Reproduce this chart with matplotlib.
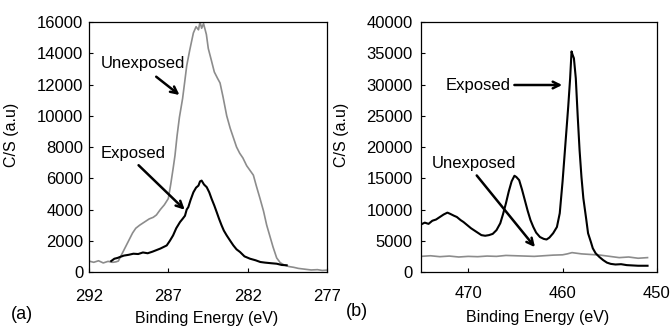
import numpy as np
import matplotlib
matplotlib.use("Agg")
import matplotlib.pyplot as plt

plt.rcParams['font.family'] = ['Liberation Sans', 'DejaVu Sans']

# (a) C 1s region
c_unexp_e = [292.0, 291.7, 291.4, 291.1, 290.8, 290.5, 290.3, 290.15, 290.0, 289.85,
             289.65, 289.45, 289.25, 289.05, 288.8, 288.5, 288.2, 287.95, 287.75, 287.5,
             287.25, 287.0, 286.85, 286.7, 286.58, 286.45, 286.3, 286.1, 285.95, 285.84,
             285.65, 285.42, 285.25, 285.1, 285.0, 284.9, 284.78, 284.6, 284.48, 284.3,
             284.1, 283.9, 283.74, 283.55, 283.32, 283.1, 282.9, 282.7, 282.5, 282.3,
             282.06, 281.85, 281.64, 281.45, 281.22, 281.0, 280.8, 280.6, 280.4, 280.17,
             279.95, 279.7, 279.4, 279.1, 278.8, 278.4, 278.0, 277.6, 277.3, 277.0]
c_unexp_v = [700, 620, 720, 580, 680, 620, 650, 700, 1000, 1300,
             1700, 2100, 2500, 2800, 3000, 3200, 3400, 3500, 3650, 4000,
             4300, 4700, 5600, 6600, 7450, 8700, 9900, 11100, 12300, 13200,
             14200, 15300, 15700, 15500, 16000, 15600, 15900, 15200, 14300, 13600,
             12800, 12400, 12100, 11200, 10000, 9200, 8600, 8000, 7600, 7300,
             6800, 6500, 6200, 5500, 4700, 3900, 3000, 2300, 1600, 900,
             600, 450, 350, 300, 230, 180, 130, 150, 100, 120]

c_exp_e = [290.6, 290.4, 290.2, 290.05, 289.8, 289.5, 289.2, 288.9, 288.6, 288.3,
           288.0, 287.75, 287.5, 287.3, 287.1, 286.9, 286.7, 286.5, 286.26, 286.1,
           285.95, 285.84, 285.74, 285.6, 285.42, 285.25, 285.1, 285.0, 284.9, 284.75,
           284.58, 284.42, 284.27, 284.1, 283.95, 283.8, 283.64, 283.5, 283.32, 283.1,
           282.9, 282.7, 282.48, 282.2, 281.85, 281.5, 281.2, 280.9, 280.5, 280.17,
           279.85, 279.54]
c_exp_v = [700, 850, 900, 960, 1050, 1100, 1170, 1150, 1250, 1200,
           1300, 1400, 1500, 1600, 1700, 2000, 2340, 2800, 3200, 3400,
           3600, 4000, 4150, 4600, 5100, 5400, 5530, 5800, 5850, 5600,
           5430, 5100, 4680, 4250, 3830, 3400, 2980, 2650, 2340, 2000,
           1700, 1450, 1280, 1000, 850, 750, 640, 600, 560, 530,
           450, 430]

# (b) Ti 2p region
ti_exp_e = [475.0, 474.6, 474.2, 473.8, 473.4, 473.0, 472.6, 472.2, 471.9, 471.5,
            471.2, 470.8, 470.5, 470.1, 469.7, 469.4, 469.0, 468.6, 468.2, 467.8,
            467.4, 467.0, 466.6, 466.3, 466.0, 465.7, 465.4, 465.1, 464.9, 464.6,
            464.3, 464.0, 463.7, 463.4, 463.1, 462.8, 462.4, 462.0, 461.7, 461.4,
            461.0, 460.6, 460.3, 460.0, 459.8, 459.6, 459.4, 459.2, 459.05, 458.95,
            458.8, 458.6, 458.4, 458.2, 458.0, 457.8, 457.5, 457.3, 457.0, 456.8,
            456.5, 456.1, 455.7, 455.3, 454.9, 454.4, 453.8, 453.2, 452.6, 452.0,
            451.0]
ti_exp_v = [7600, 7900, 7700, 8200, 8400, 8800, 9200, 9500, 9300, 9000,
            8800, 8300, 8000, 7500, 7000, 6700, 6300, 5900, 5800, 5900,
            6100, 6700, 7800, 9300, 11000, 12900, 14500, 15400, 15200, 14700,
            13200, 11500, 9800, 8300, 7200, 6300, 5600, 5300, 5200, 5500,
            6200, 7200, 9400, 14500, 18500, 22500, 26500, 31000, 35300, 34800,
            34200, 31000, 25000, 19500, 15200, 11800, 8500, 6200, 4800, 3800,
            3000, 2400, 1900, 1500, 1300, 1200, 1250, 1100, 1050, 1000,
            1000]

ti_unexp_e = [475.0, 474.0, 473.0, 472.0, 471.0, 470.0, 469.0, 468.0, 467.0, 466.0,
              465.0, 464.0, 463.0, 462.0, 461.0, 460.0, 459.5, 459.0, 458.5, 458.0,
              457.0, 456.0, 455.0, 454.0, 453.0, 452.0, 451.0]
ti_unexp_v = [2500, 2600, 2450, 2550, 2400, 2500, 2450, 2550, 2500, 2650,
              2600, 2550, 2500, 2600, 2700, 2750, 2900, 3100, 3000, 2900,
              2800, 2700, 2500, 2300, 2400, 2200, 2300]

gray = '#8c8c8c'
fs = 12

fig = plt.figure(figsize=(6.71, 3.27), dpi=100)
ax1 = fig.add_axes([0.1326, 0.1682, 0.3547, 0.7645])
ax2 = fig.add_axes([0.6274, 0.1682, 0.3517, 0.7645])

ax1.plot(c_unexp_e, c_unexp_v, color=gray, lw=1.2)
ax1.plot(c_exp_e, c_exp_v, color='black', lw=1.5)
ax1.set_xlim(292, 277)
ax1.set_ylim(0, 16000)
ax1.set_xticks([292, 287, 282, 277])
ax1.set_yticks(np.arange(0, 16001, 2000))

ax2.plot(ti_unexp_e, ti_unexp_v, color=gray, lw=1.2)
ax2.plot(ti_exp_e, ti_exp_v, color='black', lw=1.5)
ax2.set_xlim(475, 450)
ax2.set_ylim(0, 40000)
ax2.set_xticks([470, 460, 450])
ax2.set_yticks(np.arange(0, 40001, 5000))

for ax in (ax1, ax2):
    ax.tick_params(direction='in', length=3, labelsize=fs, width=0.8)
    for s in ax.spines.values():
        s.set_linewidth(0.9)
    ax.set_xlabel('Binding Energy (eV)', fontsize=11.5)
    ax.set_ylabel('C/S (a.u)', fontsize=11.5)

ax1.tick_params(axis='x', pad=12)
ax1.tick_params(axis='y', pad=4)
ax2.tick_params(axis='x', pad=10)
ax2.tick_params(axis='y', pad=6)
ax1.yaxis.set_label_coords(-0.294, 0.548)
ax2.yaxis.set_label_coords(-0.305, 0.548)
ax1.xaxis.set_label_coords(0.496, -0.158)
ax2.xaxis.set_label_coords(0.496, -0.152)

arrow = dict(arrowstyle='->', lw=1.8, color='black', mutation_scale=12)
ax1.text(288.63, 13376, 'Unexposed', ha='center', va='center', fontsize=fs)
ax1.annotate('', xy=(286.16, 11219), xytext=(287.9, 12608), arrowprops=arrow)
ax1.text(289.2, 7616, 'Exposed', ha='center', va='center', fontsize=fs)
ax1.annotate('', xy=(285.84, 3861), xytext=(289.0, 6957), arrowprops=arrow)

ax2.text(468.93, 29920, 'Exposed', ha='center', va='center', fontsize=fs)
ax2.annotate('', xy=(459.75, 29920), xytext=(465.4, 29920), arrowprops=arrow)
ax2.text(469.36, 17390, 'Unexposed', ha='center', va='center', fontsize=fs)
ax2.annotate('', xy=(462.74, 3630), xytext=(469.28, 15790), arrowprops=arrow)

fig.text(0.0328, 0.0367, '(a)', ha='center', va='center', fontsize=13)
fig.text(0.5313, 0.0459, '(b)', ha='center', va='center', fontsize=13)

fig.savefig('out.png', dpi=100)
